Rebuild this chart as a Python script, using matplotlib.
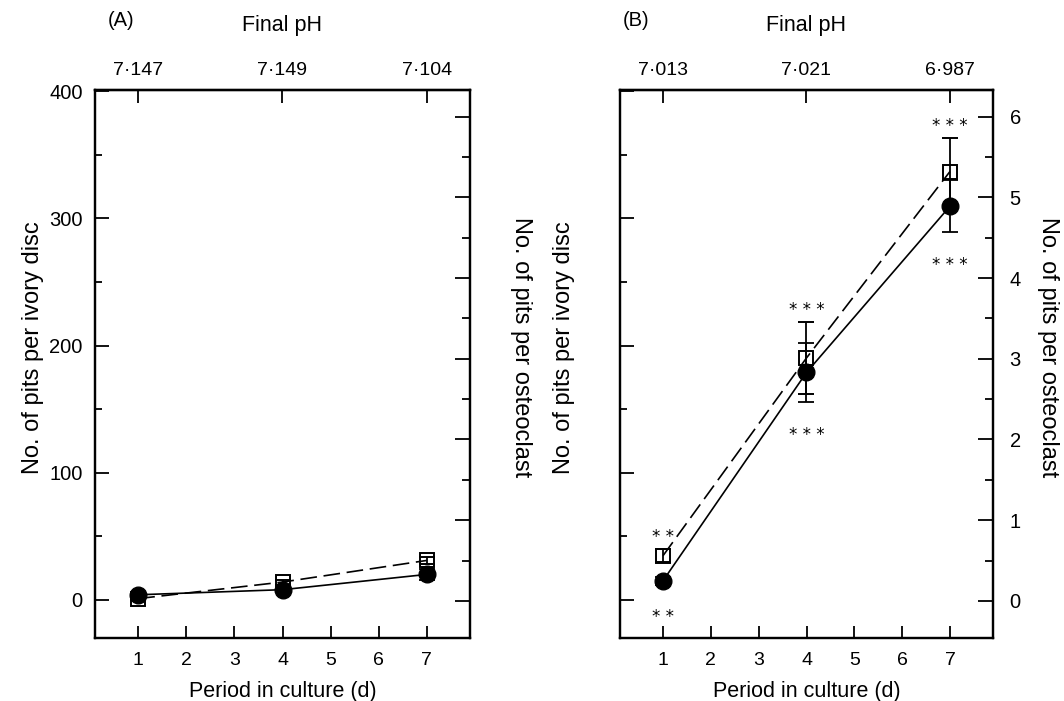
import numpy as np
import matplotlib
matplotlib.use("Agg")
import matplotlib.pyplot as plt
from matplotlib.ticker import MultipleLocator

plt.rcParams['font.family'] = ['Liberation Sans', 'DejaVu Sans']
plt.rcParams['font.size'] = 14

days = [1, 4, 7]
ph_a = ['7·147', '7·149', '7·104']
ph_b = ['7·013', '7·021', '6·987']

# panel A: pits per ivory disc
a_circle = [4, 8, 20]
a_circle_err = [1, 1, 4]
a_square = [1, 14, 31]
a_square_err = [1, 2, 3]

# panel B: pits per osteoclast
b_circle = [0.25, 2.83, 4.89]
b_circle_err = [0.05, 0.37, 0.32]
b_square = [0.56, 3.01, 5.32]
b_square_err = [0.08, 0.45, 0.42]
b_circle_sig = ['* *', '* * *', '* * *']
b_square_sig = ['* *', '* * *', '* * *']

FIG_W, FIG_H = 1064, 701


def style_axes(ax, axr, ph_labels, right_labels):
    ax.set_xlim(0.1, 7.9)
    ax.set_ylim(-30, 401)
    ax.xaxis.set_major_locator(MultipleLocator(1))
    ax.yaxis.set_major_locator(MultipleLocator(100))
    ax.yaxis.set_minor_locator(MultipleLocator(50))
    axr.set_ylim(-0.46, 6.33)
    axr.yaxis.set_major_locator(MultipleLocator(1))
    axr.yaxis.set_minor_locator(MultipleLocator(0.5))

    ax.tick_params(axis='x', which='major', direction='in', length=9, width=1.3, pad=10, top=False)
    ax.tick_params(axis='y', which='major', direction='in', length=10, width=1.3, pad=9,
                   right=False, labelsize=14.5)
    ax.tick_params(axis='y', which='minor', direction='in', length=5, width=1.3, right=False)
    axr.tick_params(axis='y', which='major', direction='in', length=11, width=1.3, pad=12,
                    labelright=right_labels, labelsize=14.5)
    axr.tick_params(axis='y', which='minor', direction='in', length=6, width=1.3)

    top = ax.secondary_xaxis('top')
    top.set_xticks(days, labels=ph_labels)
    top.tick_params(direction='in', length=9, width=1.3, pad=8)
    top.set_xlabel('Final pH', labelpad=22, fontsize=15.5)

    for a in (ax, axr):
        for s in a.spines.values():
            s.set_linewidth(1.6)
    for s in top.spines.values():
        s.set_linewidth(1.6)

    ax.set_xlabel('Period in culture (d)', labelpad=9, fontsize=15.5)
    ax.set_ylabel('No. of pits per ivory disc', fontsize=17)
    axr.set_ylabel('No. of pits per osteoclast', rotation=270, va='center', ha='center',
                   fontsize=17)
    return top


def draw_series(ax, y_circle, e_circle, y_square, e_square):
    ax.errorbar(days, y_square, yerr=e_square, fmt='s', ls=(0, (10, 4)), color='black',
                lw=1.2, ms=10, mfc='none', mec='black', mew=1.4, capsize=6, elinewidth=1.3,
                capthick=1.3, zorder=3)
    ax.errorbar(days, y_circle, yerr=e_circle, fmt='o', ls='-', color='black',
                lw=1.2, ms=12, mfc='black', mec='black', capsize=6, elinewidth=1.3,
                capthick=1.3, zorder=4)


fig = plt.figure(figsize=(FIG_W / 100, FIG_H / 100), dpi=100)

# panel A
axA = fig.add_axes([95 / FIG_W, 1 - 638 / FIG_H, 375 / FIG_W, 548 / FIG_H])
axAr = axA.twinx()
style_axes(axA, axAr, ph_a, right_labels=False)
draw_series(axA, a_circle, a_circle_err, a_square, a_square_err)
axA.yaxis.set_label_coords(-0.135, 0.53)
axAr.yaxis.set_label_coords(1.135, 0.53)
fig.text(108 / FIG_W, 1 - 21 / FIG_H, '(A)', ha='left', va='center', fontsize=14.5)

# panel B
axB = fig.add_axes([620 / FIG_W, 1 - 638 / FIG_H, 373 / FIG_W, 548 / FIG_H])
axBr = axB.twinx()
style_axes(axB, axBr, ph_b, right_labels=True)
axB.tick_params(axis='y', labelleft=False)
draw_series(axBr, b_circle, b_circle_err, b_square, b_square_err)
axB.yaxis.set_label_coords(-0.12, 0.53)
axBr.yaxis.set_label_coords(1.148, 0.53)
fig.text(623 / FIG_W, 1 - 21 / FIG_H, '(B)', ha='left', va='center', fontsize=14.5)

# significance stars
for x, y, e, s in zip(days, b_square, b_square_err, b_square_sig):
    axBr.annotate(s, (x, y + e), xytext=(0, 2), textcoords='offset points',
                  ha='center', va='bottom', fontsize=12, family='DejaVu Sans')
for x, y, e, s in zip(days, b_circle, b_circle_err, b_circle_sig):
    axBr.annotate(s, (x, y - e), xytext=(0, -17), textcoords='offset points',
                  ha='center', va='top', fontsize=12, family='DejaVu Sans')

fig.savefig('out.png', dpi=100)
